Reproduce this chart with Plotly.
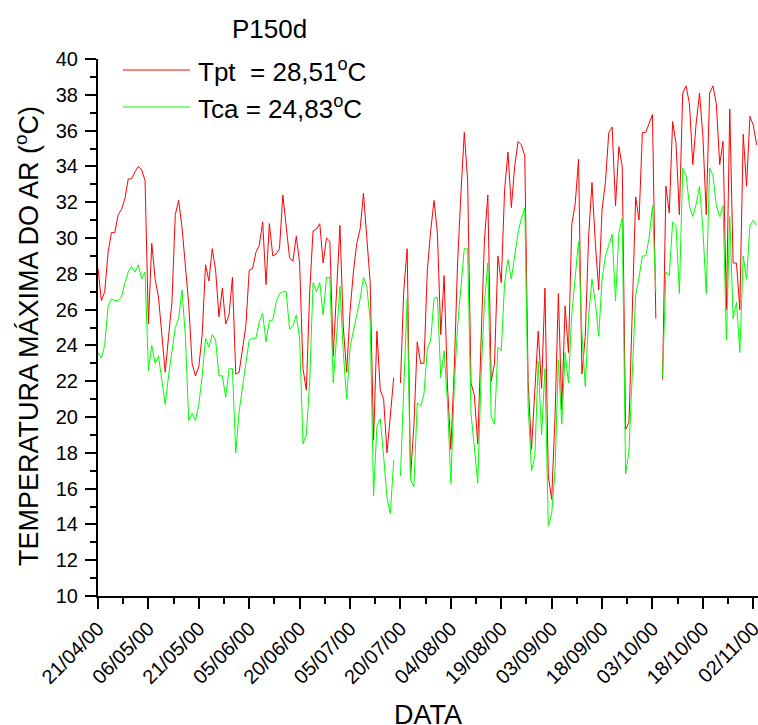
import pandas as pd
import plotly.graph_objects as go

start_date = "2000-04-21"

# Daily maximum air temperature (°C), day 0 = 21/04/00
tpt = [28.3, 26.5, 27.0, 29.2, 30.3, 30.3, 31.3, 31.6, 32.2, 33.3,
       33.3, 33.7, 34.0, 33.8, 33.2, 25.2, 29.7, 27.7, 26.7, 24.7,
       22.5, 24.5, 26.4, 31.3, 32.1, 30.6, 28.4, 26.3, 23.0, 22.3,
       22.8, 24.6, 28.5, 27.6, 29.4, 28.2, 25.6, 27.2, 25.2, 25.7,
       27.8, 22.4, 22.5, 23.7, 25.1, 28.2, 28.3, 29.2, 29.6, 30.9,
       27.4, 30.8, 29.0, 29.1, 29.4, 32.4, 30.8, 28.9, 28.7, 30.1,
       28.6, 22.7, 21.5, 27.0, 30.4, 30.5, 30.8, 28.6, 30.0, 29.8,
       23.4, 27.0, 30.7, 25.0, 22.5, 25.9, 28.1, 29.7, 30.5, 32.5,
       30.2, 27.5, 18.7, 24.8, 21.5, 21.0, 18.0, 20.2, 22.2, None,
       21.9, 27.1, 29.4, 16.6, 19.5, 24.2, 23.0, 23.0, 28.2, 30.4,
       32.1, 30.3, 24.6, 27.9, 21.7, 18.2, 22.6, 28.6, 32.5, 35.9,
       33.2, 21.9, 21.2, 18.5, 24.3, 29.9, 32.4, 22.0, 23.0, 29.0,
       27.5, 32.7, 34.8, 31.7, 34.0, 35.4, 35.2, 34.6, 22.0, 18.2,
       21.5, 24.8, 21.6, 27.2, 16.7, 15.4, 20.0, 26.9, 20.4, 26.2,
       23.6, 30.8, 31.9, 34.4, 22.4, 24.5, 30.1, 33.1, 29.7, 27.1,
       31.6, 33.1, 35.9, 36.2, 31.8, 35.1, 34.0, 19.3, 19.7, 26.4,
       32.3, 31.0, 35.9, 35.9, 36.4, 36.9, 25.5, None, 22.1, 32.9,
       31.4, 36.5, 35.3, 31.3, 38.1, 38.5, 37.5, 34.1, 36.4, 38.1,
       35.7, 31.3, 38.1, 38.5, 37.5, 34.1, 35.4, 26.0, 37.2, 28.6,
       28.6, 26.0, 35.8, 32.9, 36.8, 36.3, 35.2]

tca = [23.6, 23.3, 24.0, 26.2, 26.6, 26.5, 26.5, 26.7, 27.5, 28.1,
       28.4, 28.1, 28.5, 27.7, 28.1, 22.6, 24.0, 23.0, 23.4, 22.1,
       20.7, 22.3, 23.7, 25.0, 25.5, 27.1, 24.5, 19.8, 20.2, 19.8,
       20.7, 22.3, 24.4, 23.9, 24.6, 24.3, 22.3, 22.3, 21.1, 22.7,
       22.7, 18.0, 20.3, 21.8, 23.0, 24.3, 24.4, 24.4, 25.3, 25.8,
       24.2, 25.4, 25.4, 26.4, 26.9, 27.0, 27.0, 24.9, 25.1, 25.7,
       24.4, 18.5, 19.0, 22.0, 27.5, 27.0, 27.5, 25.7, 27.8, 27.8,
       21.9, 24.5, 27.3, 23.6, 21.0, 23.9, 24.8, 25.7, 26.6, 27.8,
       27.3, 25.4, 15.6, 19.5, 19.9, 17.8, 15.5, 14.6, 17.6, None,
       16.7, 21.7, 26.6, 16.5, 16.1, 20.8, 20.6, 21.3, 23.8, 24.3,
       26.6, 26.7, 22.2, 23.7, 20.8, 16.3, 21.7, 25.1, 27.1, 29.4,
       29.4, 20.2, 18.3, 16.3, 22.3, 26.4, 28.6, 20.0, 19.6, 23.9,
       23.7, 27.5, 28.8, 27.7, 29.0, 30.3, 31.1, 31.7, 20.6, 17.0,
       17.8, 23.1, 19.0, 22.7, 13.9, 14.6, 17.0, 23.2, 19.6, 23.6,
       21.9, 25.8, 27.8, 29.8, 24.7, 21.7, 25.6, 27.7, 26.4, 24.5,
       27.7, 29.0, 29.6, 30.2, 26.5, 30.3, 31.1, 16.8, 18.1, 22.6,
       26.8, 27.8, 29.0, 29.0, 30.0, 31.8, 27.0, None, 22.2, 28.1,
       27.9, 30.9, 30.7, 26.9, 33.9, 33.5, 31.8, 31.2, 31.9, 32.9,
       30.5, 26.9, 33.9, 33.5, 31.8, 31.2, 31.8, 24.3, 31.2, 25.5,
       26.4, 23.6, 29.0, 27.7, 30.7, 31.0, 30.7]

tick_labels = ["21/04/00", "06/05/00", "21/05/00", "05/06/00", "20/06/00",
               "05/07/00", "20/07/00", "04/08/00", "19/08/00", "03/09/00",
               "18/09/00", "03/10/00", "18/10/00", "02/11/00"]

series_names = ["Tpt  = 28,51<sup>o</sup>C", "Tca = 24,83<sup>o</sup>C"]
series_colors = ["#FF0000", "#00FF00"]
title_text = "P150d"

dates = pd.date_range(start_date, periods=len(tpt), freq="D")
tickvals = pd.to_datetime(tick_labels, format="%d/%m/%y")
minor_vals = [tickvals[i] + (tickvals[i + 1] - tickvals[i]) / 2 for i in range(len(tickvals) - 1)]
minor_vals.append(tickvals[-1] + pd.Timedelta(days=7.5))

FONT = "Liberation Sans, Arial, sans-serif"

fig = go.Figure()
for vals, name, col in zip([tpt, tca], series_names, series_colors):
    fig.add_trace(go.Scatter(x=dates, y=vals, mode="lines", name=name,
                             line=dict(color=col, width=1), connectgaps=False,
                             showlegend=False, hoverinfo="skip"))

fig.update_layout(
    width=758, height=725,
    margin=dict(l=98, r=0, t=59, b=129),
    paper_bgcolor="white", plot_bgcolor="white",
    font=dict(family=FONT, color="black", size=20),
    xaxis=dict(
        automargin=False,
        range=[pd.Timestamp(start_date), pd.Timestamp(start_date) + pd.Timedelta(days=196.4)],
        tickmode="array", tickvals=tickvals, ticktext=tick_labels,
        tickangle=-45, ticks="outside", ticklen=11, tickwidth=2, tickcolor="black",
        ticklabeloverflow="allow",
        showline=True, linecolor="black", linewidth=2, showgrid=False, zeroline=False,
        tickfont=dict(size=20),
        minor=dict(tickmode="array", tickvals=minor_vals, ticks="outside",
                   ticklen=6, tickwidth=2, tickcolor="black", showgrid=False),
    ),
    yaxis=dict(
        automargin=False,
        range=[10, 40], tickmode="linear", tick0=10, dtick=2,
        ticks="outside", ticklen=11, tickwidth=2, tickcolor="black",
        ticklabeloverflow="allow", ticklabelstandoff=3,
        showline=True, linecolor="black", linewidth=2, showgrid=False, zeroline=False,
        tickfont=dict(size=20),
        minor=dict(tickmode="linear", tick0=10, dtick=1, ticks="outside",
                   ticklen=6, tickwidth=2, tickcolor="black", showgrid=False),
    ),
)

# manual legend
leg_y = [0.9795, 0.9106]
for yy, col, name in zip(leg_y, series_colors, series_names):
    fig.add_shape(type="line", xref="paper", yref="paper", x0=0.0379, x1=0.1394,
                  y0=yy, y1=yy, line=dict(color=col, width=1))
    fig.add_annotation(xref="paper", yref="paper", x=0.148, y=yy, text=name,
                       showarrow=False, xanchor="left", yanchor="middle",
                       font=dict(size=26, family=FONT, color="black"))

fig.add_annotation(xref="paper", yref="paper", x=0.2606, y=1.0559, text=title_text,
                   showarrow=False, xanchor="center", yanchor="middle",
                   font=dict(size=26, family=FONT, color="black"))
fig.add_annotation(xref="paper", yref="paper", x=-0.1076, y=0.4842,
                   text="TEMPERATURA MÁXIMA DO AR (<sup>o</sup>C)", textangle=-90,
                   showarrow=False, xanchor="center", yanchor="middle",
                   font=dict(size=27, family=FONT, color="black"))
fig.add_annotation(xref="paper", yref="paper", x=0.5, y=-0.2225, text="DATA",
                   showarrow=False, xanchor="center", yanchor="middle",
                   font=dict(size=27, family=FONT, color="black"))

# remove the default page margin/scrollbars so the figure fills the window exactly
page_fix = ("document.body.style.margin='0px';"
            "document.body.style.overflow='hidden';"
            "document.documentElement.style.overflow='hidden';")

fig.write_html("out.html", post_script=page_fix,
               config={"displayModeBar": False, "staticPlot": True})
